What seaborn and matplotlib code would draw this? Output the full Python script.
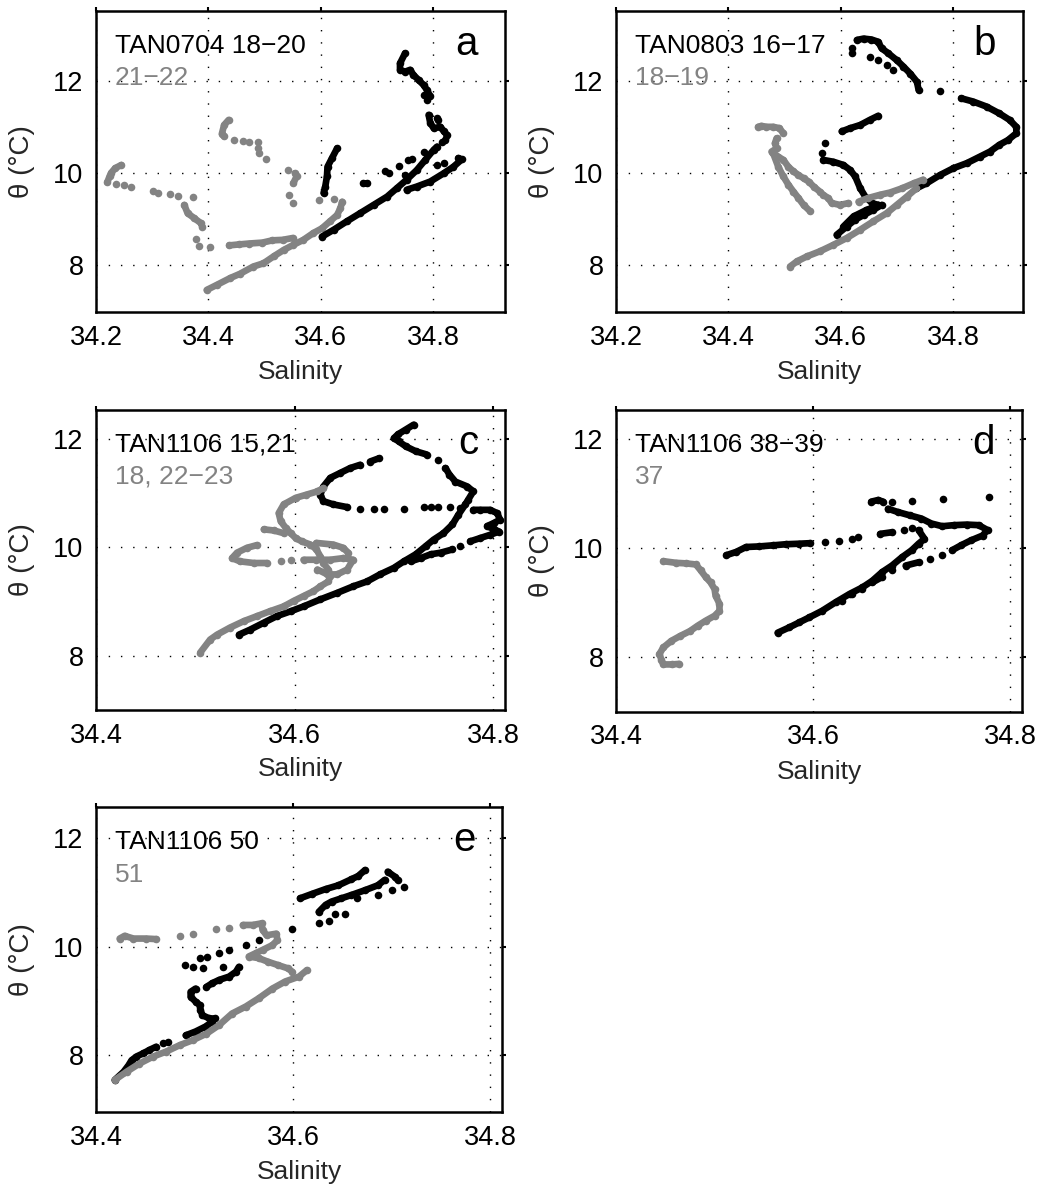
import numpy as np
import pandas as pd
import matplotlib
matplotlib.use("Agg")
import matplotlib.pyplot as plt
import seaborn as sns

# ---------------- data (Salinity, theta) ----------------
PANEL_IDS = ["a", "b", "c", "d", "e"]
LABEL_BLACK = ["TAN0704 18\u221220", "TAN0803 16\u221217", "TAN1106 15,21", "TAN1106 38\u221239", "TAN1106 50"]
LABEL_GRAY = ["21\u221222", "18\u221219", "18, 22\u221223", "37", "51"]
XTICKS_AB = [34.2, 34.4, 34.6, 34.8]
XTICKS_CDE = [34.4, 34.6, 34.8]
YTICKS = [8, 10, 12]

# panel a
A_BLACK_SEGS = [
    [(34.750, 12.61), (34.741, 12.39), (34.741, 12.25), (34.750, 12.21), (34.759, 12.25), (34.765, 12.14),
     (34.774, 12.03), (34.783, 11.92), (34.789, 11.81), (34.795, 11.67)],
    [(34.792, 11.27), (34.795, 11.09), (34.801, 10.98), (34.813, 11.01), (34.819, 10.91), (34.825, 10.83),
     (34.822, 10.72)],
    [(34.602, 8.62), (34.623, 8.77), (34.646, 8.95), (34.670, 9.13), (34.694, 9.31), (34.718, 9.49),
     (34.735, 9.67), (34.753, 9.86), (34.771, 10.07), (34.786, 10.29), (34.801, 10.51), (34.807, 10.58)],
    [(34.753, 9.64), (34.771, 9.71), (34.795, 9.82), (34.819, 10.00), (34.836, 10.14), (34.851, 10.30),
     (34.845, 10.33)],
    [(34.629, 10.54), (34.620, 10.33), (34.612, 10.14), (34.611, 9.93), (34.608, 9.71), (34.605, 9.57)],
    [(34.676, 9.78), (34.682, 9.78)],
]
A_BLACK_DOTS = [(34.783, 11.70), (34.789, 11.59), (34.807, 11.20), (34.809, 11.15), (34.715, 10.04),
                (34.721, 10.00), (34.739, 10.16), (34.756, 10.29), (34.762, 10.31), (34.750, 9.96),
                (34.807, 10.18), (34.819, 10.22), (34.783, 10.47), (34.816, 10.69)]
A_GRAY_SEGS = [
    [(34.245, 10.18), (34.234, 10.11), (34.227, 10.01), (34.224, 9.93), (34.220, 9.80)],
    [(34.357, 9.31), (34.363, 9.13), (34.375, 9.02), (34.387, 8.91), (34.389, 8.84)],
    [(34.437, 8.43), (34.454, 8.45), (34.472, 8.47), (34.496, 8.49), (34.514, 8.54), (34.532, 8.55),
     (34.550, 8.59)],
    [(34.436, 11.16), (34.428, 11.05), (34.424, 10.86), (34.428, 10.80)],
    [(34.554, 10.00), (34.557, 9.93), (34.551, 9.78)],
    [(34.397, 7.46), (34.415, 7.57), (34.439, 7.72), (34.456, 7.81), (34.480, 7.97), (34.498, 8.04),
     (34.516, 8.19), (34.534, 8.33), (34.551, 8.44), (34.569, 8.55), (34.587, 8.70), (34.602, 8.80),
     (34.616, 8.95), (34.629, 9.09), (34.635, 9.24), (34.638, 9.38)],
]
A_GRAY_DOTS = [(34.236, 9.77), (34.250, 9.74), (34.262, 9.69), (34.301, 9.62), (34.310, 9.58),
               (34.331, 9.55), (34.346, 9.51), (34.372, 9.49), (34.378, 8.57), (34.384, 8.42),
               (34.402, 8.39), (34.446, 10.72), (34.461, 10.70), (34.473, 10.69), (34.488, 10.69),
               (34.488, 10.54), (34.490, 10.43), (34.503, 10.31), (34.541, 10.07), (34.543, 9.53),
               (34.550, 9.35), (34.596, 9.42), (34.623, 9.43)]

# panel b
B_BLACK_SEGS = [
    [(34.629, 12.90), (34.641, 12.93), (34.655, 12.91), (34.667, 12.86), (34.673, 12.72), (34.685, 12.61),
     (34.700, 12.46), (34.712, 12.32), (34.724, 12.17), (34.736, 11.99), (34.739, 11.81)],
    [(34.815, 11.63), (34.836, 11.56), (34.860, 11.45), (34.883, 11.30), (34.901, 11.16), (34.913, 11.01),
     (34.913, 10.87), (34.898, 10.72), (34.883, 10.62), (34.866, 10.47), (34.848, 10.36), (34.825, 10.22),
     (34.801, 10.11), (34.777, 9.96), (34.753, 9.78), (34.735, 9.67)],
    [(34.602, 10.91), (34.617, 10.98), (34.635, 11.05), (34.652, 11.16), (34.667, 11.25)],
    [(34.569, 10.29), (34.587, 10.25), (34.605, 10.18), (34.617, 10.07), (34.626, 9.93), (34.635, 9.67),
     (34.644, 9.49), (34.656, 9.35), (34.667, 9.31)],
    [(34.593, 8.66), (34.611, 8.84), (34.626, 8.99), (34.641, 9.09), (34.658, 9.20), (34.673, 9.31)],
    [(34.605, 8.84), (34.623, 9.06), (34.646, 9.20), (34.667, 9.30)],
]
B_BLACK_DOTS = [(34.620, 12.61), (34.620, 12.72), (34.777, 11.78), (34.652, 12.54), (34.667, 12.46),
                (34.682, 12.36), (34.694, 12.25), (34.572, 10.65), (34.566, 10.43)]
B_GRAY_SEGS = [
    [(34.453, 11.01), (34.459, 11.03), (34.468, 11.01), (34.480, 11.01), (34.491, 10.98), (34.498, 10.87)],
    [(34.486, 10.76), (34.483, 10.65), (34.486, 10.54), (34.477, 10.47), (34.489, 10.36), (34.498, 10.29),
     (34.507, 10.14), (34.516, 10.04), (34.525, 9.96), (34.534, 9.89), (34.543, 9.82), (34.552, 9.71),
     (34.563, 9.60), (34.569, 9.53), (34.578, 9.46), (34.584, 9.35), (34.599, 9.31), (34.614, 9.35)],
    [(34.480, 10.43), (34.489, 10.14), (34.498, 9.93), (34.507, 9.75), (34.516, 9.60), (34.525, 9.46),
     (34.534, 9.31), (34.546, 9.17)],
    [(34.632, 9.38), (34.649, 9.46), (34.670, 9.53), (34.688, 9.58), (34.709, 9.67), (34.730, 9.78),
     (34.747, 9.86)],
    [(34.510, 7.97), (34.522, 8.08), (34.540, 8.19), (34.563, 8.30), (34.587, 8.44), (34.611, 8.59),
     (34.635, 8.77), (34.658, 8.95), (34.682, 9.13), (34.700, 9.31), (34.718, 9.49), (34.735, 9.67)],
]
B_GRAY_DOTS = []

# panel c
C_BLACK_SEGS = [
    [(34.720, 12.26), (34.712, 12.17), (34.704, 12.08), (34.700, 12.01), (34.705, 11.95), (34.712, 11.86),
     (34.722, 11.77), (34.733, 11.71)],
    [(34.752, 11.46), (34.756, 11.34), (34.762, 11.21), (34.774, 11.12), (34.780, 11.03), (34.775, 10.88),
     (34.772, 10.79), (34.765, 10.60), (34.759, 10.42), (34.750, 10.26), (34.740, 10.14), (34.732, 10.02),
     (34.722, 9.87), (34.710, 9.74), (34.700, 9.62), (34.686, 9.50), (34.673, 9.37), (34.659, 9.28),
     (34.643, 9.16), (34.626, 9.04), (34.609, 8.91), (34.596, 8.82), (34.582, 8.73), (34.569, 8.61),
     (34.555, 8.48), (34.544, 8.39)],
    [(34.685, 11.64), (34.676, 11.58)],
    [(34.666, 11.52), (34.656, 11.46), (34.646, 11.37), (34.636, 11.28), (34.629, 11.12), (34.626, 10.97),
     (34.629, 10.85), (34.639, 10.79), (34.653, 10.74)],
    [(34.780, 10.69), (34.787, 10.69), (34.797, 10.69), (34.804, 10.63), (34.807, 10.51), (34.801, 10.45),
     (34.794, 10.39), (34.801, 10.33), (34.806, 10.29), (34.797, 10.23), (34.787, 10.17), (34.777, 10.11)],
    [(34.759, 9.96), (34.747, 9.90), (34.737, 9.87), (34.727, 9.80), (34.717, 9.74)],
]
C_BLACK_DOTS = [(34.744, 11.61), (34.666, 10.71), (34.680, 10.71), (34.690, 10.71), (34.710, 10.71),
                (34.730, 10.74), (34.737, 10.74), (34.744, 10.74), (34.757, 10.74), (34.767, 10.72),
                (34.767, 10.02)]
C_GRAY_SEGS = [
    [(34.629, 11.09), (34.623, 11.03), (34.612, 10.97), (34.601, 10.91), (34.589, 10.79), (34.584, 10.63),
     (34.586, 10.48), (34.591, 10.36), (34.596, 10.26), (34.601, 10.17), (34.607, 10.11), (34.616, 10.05),
     (34.622, 9.96), (34.626, 9.83), (34.629, 9.71), (34.634, 9.59), (34.636, 9.47), (34.634, 9.37),
     (34.626, 9.28), (34.619, 9.19), (34.609, 9.10), (34.599, 9.01), (34.589, 8.91), (34.575, 8.82),
     (34.562, 8.73), (34.549, 8.64), (34.535, 8.52), (34.522, 8.39), (34.515, 8.30), (34.505, 8.06)],
    [(34.569, 10.33), (34.579, 10.31), (34.589, 10.26)],
    [(34.562, 10.04), (34.552, 9.99), (34.542, 9.90), (34.537, 9.80), (34.545, 9.74), (34.559, 9.71),
     (34.572, 9.71)],
    [(34.609, 9.77), (34.622, 9.77), (34.636, 9.77), (34.649, 9.80), (34.659, 9.77), (34.653, 9.59),
     (34.643, 9.50), (34.633, 9.50), (34.623, 9.59)],
    [(34.622, 10.08), (34.639, 10.05), (34.649, 9.99), (34.654, 9.90)],
]
C_GRAY_DOTS = [(34.586, 9.74), (34.596, 9.77)]

# panel d
D_BLACK_SEGS = [
    [(34.512, 9.87), (34.522, 9.93), (34.532, 10.02), (34.545, 10.03), (34.559, 10.05), (34.572, 10.07),
     (34.586, 10.08), (34.597, 10.09)],
    [(34.668, 10.26), (34.680, 10.29)],
    [(34.659, 10.85), (34.666, 10.88), (34.671, 10.85)],
    [(34.676, 10.72), (34.686, 10.66), (34.698, 10.60), (34.710, 10.54), (34.720, 10.45), (34.731, 10.40),
     (34.743, 10.42), (34.756, 10.43), (34.768, 10.42), (34.777, 10.33), (34.772, 10.23), (34.760, 10.14),
     (34.750, 10.05), (34.741, 9.96)],
    [(34.707, 9.74), (34.694, 9.68)],
    [(34.670, 9.47), (34.660, 9.37)],
    [(34.707, 10.33), (34.713, 10.17), (34.707, 10.08), (34.700, 9.96), (34.690, 9.83), (34.680, 9.68),
     (34.670, 9.56), (34.660, 9.40), (34.650, 9.28), (34.637, 9.16), (34.623, 9.01), (34.609, 8.85),
     (34.596, 8.73), (34.586, 8.64), (34.576, 8.55), (34.564, 8.45)],
]
D_BLACK_DOTS = [(34.612, 10.11), (34.626, 10.13), (34.639, 10.17), (34.646, 10.20), (34.692, 10.33),
                (34.700, 10.36), (34.680, 10.85), (34.731, 9.87), (34.719, 9.80), (34.680, 9.59),
                (34.650, 9.25), (34.639, 9.16), (34.629, 9.04), (34.700, 10.86), (34.732, 10.89),
                (34.779, 10.93)]
D_GRAY_SEGS = [
    [(34.448, 9.76), (34.461, 9.73), (34.471, 9.72), (34.481, 9.70), (34.486, 9.59), (34.491, 9.47),
     (34.496, 9.37), (34.500, 9.25), (34.501, 9.13), (34.505, 8.98), (34.505, 8.85), (34.500, 8.76),
     (34.491, 8.67), (34.483, 8.58), (34.475, 8.48), (34.465, 8.39), (34.456, 8.30), (34.448, 8.18),
     (34.444, 8.06), (34.446, 7.96), (34.448, 7.87), (34.457, 7.87), (34.464, 7.88)],
]
D_GRAY_DOTS = []

# panel e
E_BLACK_SEGS = [
    [(34.419, 7.55), (34.428, 7.70), (34.433, 7.82), (34.436, 7.91), (34.441, 7.98), (34.448, 8.04),
     (34.454, 8.10), (34.461, 8.16)],
    [(34.491, 8.37), (34.501, 8.44), (34.511, 8.53), (34.518, 8.62)],
    [(34.521, 8.68), (34.515, 8.68), (34.508, 8.74), (34.506, 8.83), (34.505, 8.93), (34.501, 8.99),
     (34.496, 9.08), (34.496, 9.17), (34.501, 9.23)],
    [(34.512, 9.26), (34.518, 9.33), (34.525, 9.39), (34.535, 9.45), (34.542, 9.54), (34.545, 9.63)],
    [(34.607, 10.89), (34.619, 10.97), (34.633, 11.06), (34.646, 11.13), (34.659, 11.24), (34.666, 11.30),
     (34.673, 11.41)],
    [(34.626, 10.64), (34.633, 10.77), (34.639, 10.83), (34.649, 10.89), (34.659, 10.95), (34.673, 11.04),
     (34.686, 11.13), (34.693, 11.23)],
    [(34.696, 11.38), (34.703, 11.29), (34.706, 11.23)],
]
E_BLACK_DOTS = [(34.468, 8.22), (34.473, 8.25), (34.490, 9.66), (34.498, 9.63), (34.509, 9.60),
                (34.529, 9.63), (34.505, 9.79), (34.513, 9.82), (34.525, 9.88), (34.535, 9.94),
                (34.552, 10.04), (34.565, 10.12), (34.599, 10.32), (34.713, 11.09), (34.700, 11.04),
                (34.686, 10.95), (34.626, 10.43), (34.636, 10.48), (34.643, 10.61), (34.653, 10.61),
                (34.665, 10.89)]
E_GRAY_SEGS = [
    [(34.419, 7.55), (34.431, 7.70), (34.444, 7.85), (34.458, 7.98), (34.471, 8.07), (34.485, 8.19),
     (34.498, 8.28), (34.512, 8.40), (34.525, 8.56), (34.538, 8.77), (34.552, 8.90), (34.565, 9.05),
     (34.579, 9.23), (34.592, 9.36), (34.606, 9.45), (34.614, 9.57)],
    [(34.424, 10.15), (34.429, 10.20), (34.438, 10.15), (34.451, 10.15), (34.461, 10.14)],
    [(34.549, 10.40), (34.559, 10.40), (34.568, 10.43), (34.569, 10.31), (34.573, 10.21), (34.583, 10.24),
     (34.584, 10.12), (34.579, 10.03), (34.569, 9.94), (34.562, 9.88), (34.555, 9.82), (34.565, 9.79),
     (34.575, 9.72), (34.585, 9.66), (34.595, 9.60), (34.599, 9.54)],
]
E_GRAY_DOTS = [(34.485, 10.20), (34.498, 10.23), (34.522, 10.32), (34.535, 10.35)]

# ---------------- build tables ----------------
SERIES = {
    "a": (A_BLACK_SEGS, A_BLACK_DOTS, A_GRAY_SEGS, A_GRAY_DOTS),
    "b": (B_BLACK_SEGS, B_BLACK_DOTS, B_GRAY_SEGS, B_GRAY_DOTS),
    "c": (C_BLACK_SEGS, C_BLACK_DOTS, C_GRAY_SEGS, C_GRAY_DOTS),
    "d": (D_BLACK_SEGS, D_BLACK_DOTS, D_GRAY_SEGS, D_GRAY_DOTS),
    "e": (E_BLACK_SEGS, E_BLACK_DOTS, E_GRAY_SEGS, E_GRAY_DOTS),
}

def seg_table(segs):
    rows = []
    for i, seg in enumerate(segs):
        for s, t in seg:
            rows.append({"seg": i, "S": s, "T": t})
    return pd.DataFrame(rows, columns=["seg", "S", "T"])

def dot_table(segs, dots):
    pts = [p for seg in segs for p in seg] + list(dots)
    return pd.DataFrame(pts, columns=["S", "T"])

# ---------------- style ----------------
sns.set_style("white")
plt.rcParams["font.family"] = ["Liberation Sans", "DejaVu Sans"]
plt.rcParams["axes.unicode_minus"] = True

BLACK = "#000000"
GRAY = "#838383"
FS_TICK = 19.5
FS_LAB = 19
FS_TXT = 19
LW = 4.8
MS = 30

fig = plt.figure(figsize=(10.45, 11.85), dpi=100)
positions = {
    "a": [0.0919, 0.7367, 0.3914, 0.2540],
    "b": [0.5895, 0.7367, 0.3895, 0.2540],
    "c": [0.0919, 0.4008, 0.3914, 0.2532],
    "d": [0.5895, 0.3992, 0.3885, 0.2549],
    "e": [0.0919, 0.0616, 0.3885, 0.2574],
}
limits = {
    "a": ((34.2, 34.928), (6.98, 13.53)),
    "b": ((34.2, 34.925), (6.98, 13.53)),
    "c": ((34.4, 34.812), (7.0, 12.53)),
    "d": ((34.4, 34.812), (7.0, 12.53)),
    "e": ((34.4, 34.812), (6.96, 12.57)),
}
gray_on_top = {"a": False, "b": True, "c": True, "d": True, "e": True}

for k, pid in enumerate(PANEL_IDS):
    ax = fig.add_axes(positions[pid])
    bsegs, bdots, gsegs, gdots = SERIES[pid]
    order = [(bsegs, bdots, BLACK), (gsegs, gdots, GRAY)]
    if not gray_on_top[pid]:
        order = order[::-1]
    z = 3
    for segs, dots, col in order:
        st = seg_table(segs)
        sns.lineplot(data=st, x="S", y="T", units="seg", estimator=None, sort=False,
                     color=col, linewidth=LW, solid_capstyle="round", ax=ax, zorder=z, legend=False)
        dt = dot_table(segs, dots)
        sns.scatterplot(data=dt, x="S", y="T", color=col, s=MS, linewidth=0, ax=ax,
                        zorder=z + 0.5, legend=False)
        z += 1

    (x0, x1), (y0, y1) = limits[pid]
    ax.set_xlim(x0, x1)
    ax.set_ylim(y0, y1)
    xt = XTICKS_AB if pid in ("a", "b") else XTICKS_CDE
    ax.set_xticks(xt)
    ax.set_xticklabels([f"{v:.1f}" for v in xt])
    ax.set_yticks(YTICKS)
    ax.set_yticklabels([str(v) for v in YTICKS])
    ax.grid(True, color="black", linestyle=(0, (1, 7.8)), linewidth=1.0)
    ax.set_axisbelow(True)
    for sp in ax.spines.values():
        sp.set_visible(True)
        sp.set_linewidth(1.8)
        sp.set_color("black")
    ax.tick_params(direction="out", length=3, width=1.5, top=True, right=True,
                   labeltop=False, labelright=False, labelsize=FS_TICK, colors="black")
    ax.tick_params(axis="x", pad=6)
    ax.tick_params(axis="y", pad=6)
    ax.set_xlabel("Salinity", fontsize=FS_LAB)
    ax.set_ylabel("\u03b8 (\u00b0C)", fontsize=FS_LAB + 1)
    ax.xaxis.set_label_coords(0.5, -0.158)
    ax.yaxis.set_label_coords(-0.15, 0.5)

    ax.text(0.046, 0.862, LABEL_BLACK[k], transform=ax.transAxes, fontsize=FS_TXT,
            color=BLACK, va="baseline", ha="left", zorder=1)
    ax.text(0.046, 0.755, LABEL_GRAY[k], transform=ax.transAxes, fontsize=FS_TXT,
            color=GRAY, va="baseline", ha="left", zorder=1)
    ax.text(0.934, 0.855, pid, transform=ax.transAxes, fontsize=29,
            color=BLACK, va="baseline", ha="right", zorder=6)

fig.savefig("out.png", dpi=100)
